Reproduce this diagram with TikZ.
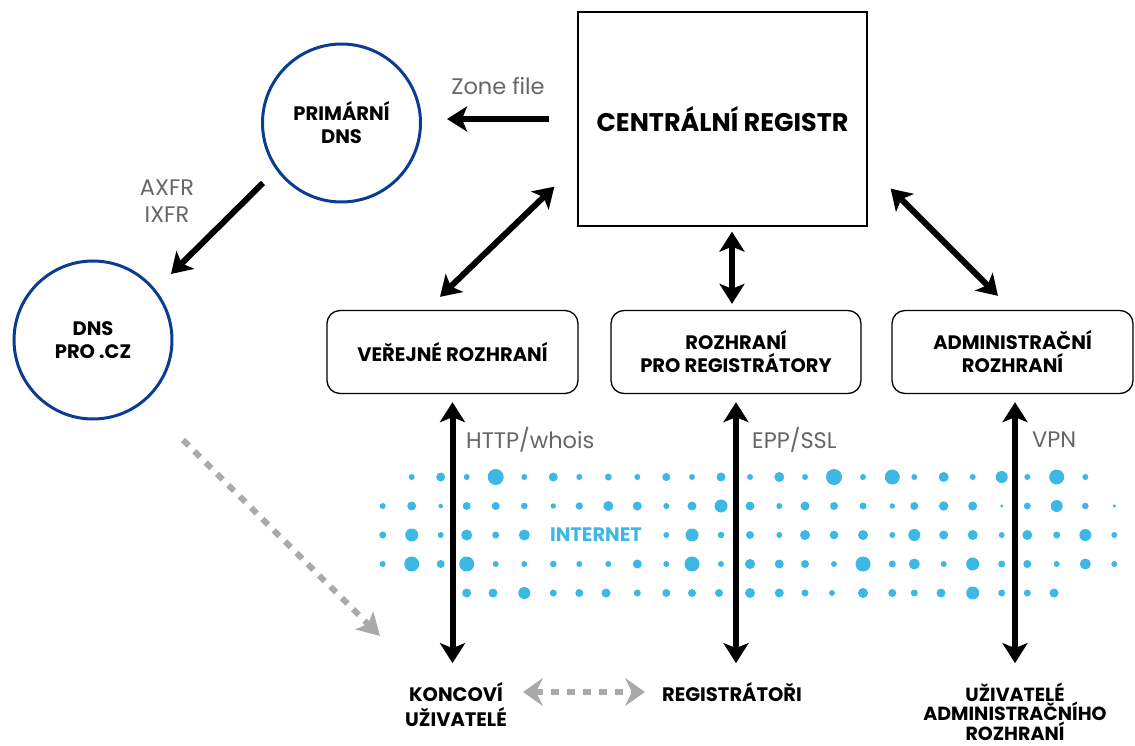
\documentclass[tikz,border=0pt]{standalone}
\usepackage{fontspec}
\setmainfont{Poppins}
\usetikzlibrary{arrows.meta,calc}
\definecolor{dnsblue}{HTML}{0A3D91}
\definecolor{dotc}{HTML}{3DB8E4}
\definecolor{lblgray}{HTML}{666666}
\definecolor{dashgray}{HTML}{AAAAAA}
\tikzset{
  lbl/.style={font=\bfseries\fontsize{19.5}{23}\selectfont, align=center, text=black, inner sep=0pt},
  glbl/.style={font=\fontsize{22.5}{27}\selectfont, text=lblgray, align=center, inner sep=0pt},
  ifbox/.style={lbl, draw=black, line width=1.3pt, rounded corners=13pt, minimum height=83pt},
  dnscirc/.style={lbl, circle, draw=dnsblue, line width=3pt, minimum size=158pt},
  arr/.style={line width=6pt, -{Stealth[length=20pt,width=25pt,inset=5pt]}},
  dbl/.style={line width=6pt, {Stealth[length=20pt,width=25pt,inset=5pt]}-{Stealth[length=20pt,width=25pt,inset=5pt]}},
  garr/.style={draw=dashgray, line width=6pt, dash pattern=on 8pt off 8pt},
}
\begin{document}
\begin{tikzpicture}[x=1pt,y=-1pt]
\useasboundingbox (0,0) rectangle (1135,746);
% dots
\foreach \y/\row in {
 477/{411.7/3,440.7/4.5,466.7/3,495.7/8,524.3/3,553.3/4.5,579.3/3,608.3/3.5,637.3/3,666.3/4,692/3,721/4.5,750/3,779.3/5,805/3,834/8,863/3,892.3/7.5,914.3/3,943.7/5,972.7/3,1001.7/6,1027.3/3,1056.7/7.5,1085.3/3},
 506/{382.7/3,411.7/4.5,440.7/2.3,466.7/4,495.7/4,524.3/3.3,553.3/2.7,579.3/3.7,608.3/5,637.3/4.5,666.3/3,692/4.5,721/6.5,750/4.5,779.3/3,805/4.5,834/4,863/3.5,892.3/2.7,914.3/4,943.7/4.7,972.7/4.5,1001.7/1.7,1027.3/3.5,1056.7/6,1085.3/3.3,1114.3/1.7},
 535/{382.7/3.5,411.7/6.5,440.7/3,466.7/5.5,495.7/3.5,524.3/5.5,666.3/3,692/6.5,721/3.3,750/4,779.3/3,805/5,834/4.3,863/5,892.3/3,914.3/6,943.7/4.5,972.7/5,1001.7/3,1027.3/5,1056.7/3.5,1085.3/6,1114.3/3},
 564/{382.7/3,411.7/7.5,440.7/4,466.7/7.5,495.7/3,524.3/3,553.3/3.3,579.3/3,608.3/3,637.3/4.5,666.3/3,692/7.5,721/3,750/5,779.3/4.5,805/4,834/3,863/7.5,892.3/3.5,914.3/5.5,943.7/3,972.7/6.5,1001.7/3.5,1027.3/4,1056.7/3,1085.3/5.5,1114.3/3},
 593/{466.7/4.5,493/4.5,524.3/6,553.3/3.5,579.3/4,606/4.5,637.3/3.5,666.3/4,692/4,719/4,750/5,779.3/4.5,805/3.5,832/3,863/5,892.3/4,914.3/3.5,941/4.5,972.7/6.5,1001.7/3.5,1027.3/3.5,1054/4.5}}
{ \foreach \x/\r in \row { \fill[dotc] (\x,\y) circle[radius=\r pt]; } }

\node[lbl, text=dotc] (inet) at (596,535) {INTERNET};

% main nodes
\node[draw=black, line width=1.3pt, minimum width=289pt, minimum height=214pt,
      font=\bfseries\fontsize{25.5}{30}\selectfont] (central) at (722.5,119) {CENTRÁLNÍ REGISTR};
\node[dnscirc] (prim) at (341.5,123) {PRIMÁRNÍ\\DNS};
\node[dnscirc] (dns) at (93,340) {DNS\\PRO .CZ};
\node[ifbox, minimum width=251pt] (pub) at (452.5,352) {VEŘEJNÉ ROZHRANÍ};
\node[ifbox, minimum width=250pt] (roz) at (736,352) {ROZHRANÍ\\PRO REGISTRÁTORY};
\node[ifbox, minimum width=241pt] (adm) at (1012.5,352) {ADMINISTRAČNÍ\\ROZHRANÍ};

\node[lbl, font=\bfseries\fontsize{19.5}{25}\selectfont] (ku) at (456,705) {KONCOVÍ\\UŽIVATELÉ};
\node[lbl] (reg) at (732,692) {REGISTRÁTOŘI};
\node[lbl, font=\bfseries\fontsize{19}{19.5}\selectfont] (au) at (1015,711.5) {UŽIVATELÉ\\ADMINISTRAČNÍHO\\ROZHRANÍ};

% gray labels
\node[glbl] (zf) at (498,86) {Zone file};
\node[glbl] (ax) at (167,201) {AXFR\\IXFR};
\node[glbl, anchor=west] (http) at (466,440) {HTTP/whois};
\node[glbl, anchor=west] (epp) at (752,440) {EPP/SSL};
\node[glbl, anchor=west] (vpn) at (1032,440) {VPN};

% arrows
\draw[arr] ($(central.west)+(-28,0)$) -- ($(prim.east)+(25,-4)$);
\draw[arr] ($(prim.center)+(-78.5,60)$) -- ($(dns.center)+(78,-66)$);
\draw[dbl] ($(central.south west)+(-23,-40)$) -- ($(pub.north)+(-12.5,-13)$);
\draw[dbl] ($(central.south east)+(23,-38)$) -- ($(adm.north)+(-14.5,-14)$);
\draw[dbl] ($(central.south)+(9.5,5)$) -- ($(roz.north)+(-4,-6)$);
\draw[dbl] ($(pub.south)+(0,8)$) -- ($(pub.south)+(0,269)$);
\draw[dbl] ($(roz.south)+(0,8)$) -- ($(roz.south)+(0,269)$);
\draw[dbl] ($(adm.south)+(2.5,8)$) -- ($(adm.south)+(2.5,269)$);

% gray dashed arrows
\draw[garr, -{Stealth[length=22pt,width=25pt,inset=5pt]}] ($(dns.center)+(90,100)$) -- (380,636);
\draw[garr, {Stealth[length=20pt,width=28pt,inset=7pt]}-{Stealth[length=20pt,width=28pt,inset=7pt]}] ($(ku.center)+(67,-13)$) -- ($(reg.center)+(-87,0)$);
\end{tikzpicture}
\end{document}
